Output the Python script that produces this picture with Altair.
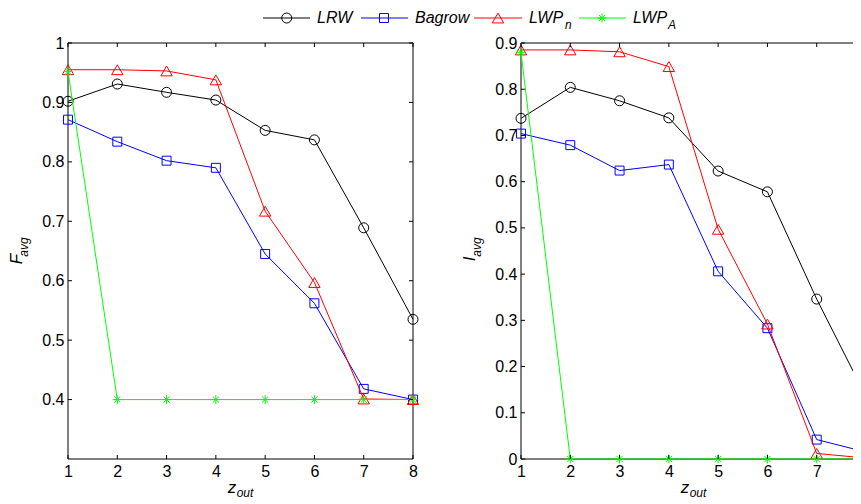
import altair as alt
import pandas as pd

# ---------------- data ----------------
z_out = [1, 2, 3, 4, 5, 6, 7, 8]
series = ["LRW", "Bagrow", "LWP_n", "LWP_A"]

f_lrw = [0.902, 0.931, 0.917, 0.904, 0.853, 0.837, 0.689, 0.535]
f_bagrow = [0.871, 0.834, 0.802, 0.790, 0.645, 0.562, 0.418, 0.400]
f_lwpn = [0.955, 0.955, 0.953, 0.938, 0.717, 0.597, 0.401, 0.400]
f_lwpa = [0.952, 0.400, 0.400, 0.400, 0.400, 0.400, 0.400, 0.400]

i_lrw = [0.737, 0.804, 0.775, 0.738, 0.623, 0.578, 0.346, 0.135]
i_bagrow = [0.704, 0.679, 0.624, 0.637, 0.406, 0.283, 0.042, 0.015]
i_lwpn = [0.885, 0.885, 0.881, 0.849, 0.497, 0.292, 0.012, 0.002]
i_lwpa = [0.879, 0.0, 0.0, 0.0, 0.0, 0.0, 0.0, 0.0]

f_ticks = [0.4, 0.5, 0.6, 0.7, 0.8, 0.9, 1.0]
i_ticks = [0.0, 0.1, 0.2, 0.3, 0.4, 0.5, 0.6, 0.7, 0.8, 0.9]

# ---------------- styles ----------------
ASTER = "M-1,0L1,0M0,-1L0,1M-0.7,-0.7L0.7,0.7M-0.7,0.7L0.7,-0.7"
colors = {"LRW": "#000000", "Bagrow": "#0000ff", "LWP_n": "#ff0000", "LWP_A": "#00ff00"}
shapes = {"LRW": "circle", "Bagrow": "square", "LWP_n": "triangle-up", "LWP_A": ASTER}
sizes = {"LRW": 100, "Bagrow": 80, "LWP_n": 130, "LWP_A": 80}
FONT = "Liberation Sans"
W_L, H = 345, 416
UNIT = W_L / 7.0        # pixels per z_out unit, same in both panels
W_R = 332               # visible part of the right panel (the figure runs off the page)
TL = 4                  # inward tick length


def one(t):
    return pd.DataFrame({"t": [t]})


def panel(vals, ydomain, yticks, ysym, width, legend=False, cut=False):
    xmax = 1 + width / UNIT
    xs = alt.Scale(domain=[1, xmax], nice=False, zero=False)
    ys = alt.Scale(domain=ydomain, nice=False, zero=False)
    xvals = [v for v in z_out if v <= xmax + 1e-9]
    common = dict(title=None, labelFlush=False, labelOverlap=False, ticks=False,
                  domain=False, grid=False, labelPadding=4, labelFont=FONT,
                  labelFontSize=16, labelColor="black")
    xaxis = alt.Axis(values=xvals, format="d", **common)
    yaxis = alt.Axis(values=yticks, format=".1~f", **common)

    def X(f):
        return alt.X(f"{f}:Q", scale=xs, axis=xaxis)

    def Y(f):
        return alt.Y(f"{f}:Q", scale=ys, axis=yaxis)

    layers = []
    # box frame
    fr = alt.Chart(one("frame"))
    layers.append(fr.mark_rule(color="black", strokeWidth=1).encode(
        x=alt.value(0), y=alt.value(0), y2=alt.value(H)))
    if not cut:
        layers.append(fr.mark_rule(color="black", strokeWidth=1).encode(
            x=alt.value(width), y=alt.value(0), y2=alt.value(H)))
    layers.append(fr.mark_rule(color="black", strokeWidth=1).encode(
        x=alt.value(0), x2=alt.value(width), y=alt.value(0)))
    layers.append(fr.mark_rule(color="black", strokeWidth=1).encode(
        x=alt.value(0), x2=alt.value(width), y=alt.value(H)))

    for s, v in zip(series, vals):
        df = pd.DataFrame({"z": z_out, "v": v})
        b = alt.Chart(df)
        layers.append(b.mark_line(color=colors[s], strokeWidth=1, clip=cut).encode(
            x=X("z"), y=Y("v")))
        pts = b.mark_point(color=colors[s], filled=False, strokeWidth=1,
                           shape=shapes[s], size=sizes[s], opacity=1)
        if cut:
            pts = pts.transform_filter(f"datum.z <= {xmax}")
        layers.append(pts.encode(x=X("z"), y=Y("v")))

    # inward ticks
    yt = alt.Chart(pd.DataFrame({"v": yticks}))
    xt = alt.Chart(pd.DataFrame({"z": xvals}))
    layers.append(yt.mark_rule(color="black", strokeWidth=1).encode(
        y=Y("v"), x=alt.value(0), x2=alt.value(TL)))
    if not cut:
        layers.append(yt.mark_rule(color="black", strokeWidth=1).encode(
            y=Y("v"), x=alt.value(width - TL), x2=alt.value(width)))
    layers.append(xt.mark_rule(color="black", strokeWidth=1).encode(
        x=X("z"), y=alt.value(H - TL), y2=alt.value(H)))
    layers.append(xt.mark_rule(color="black", strokeWidth=1).encode(
        x=X("z"), y=alt.value(0), y2=alt.value(TL)))

    def txt(t, x, y, size, angle=0, align="center", baseline="alphabetic"):
        return alt.Chart(one(t)).mark_text(
            font=FONT, fontSize=size, fontStyle="italic", color="black",
            angle=angle, align=align, baseline=baseline).encode(
            text="t:N", x=alt.value(x), y=alt.value(y))

    # axis titles with subscripts
    layers.append(txt(ysym, -46, 216, 17, angle=270))
    layers.append(txt("avg", -40, 204, 12, angle=270))
    layers.append(txt("z", 164, 450, 17))
    layers.append(txt("out", 177, 454, 12))

    if legend:
        items = [
            ("LRW", 195, 242, 218.7, 249, None, None),
            ("Bagrow", 293, 340, 316, 347, None, None),
            ("LWP_n", 406, 454, 430, 461, "n", 497),
            ("LWP_A", 511, 558, 534, 565, "A", 600),
        ]
        ly = -25
        for s, x1, x2, xm, xt_, sub, xs_ in items:
            d = alt.Chart(one(s))
            layers.append(d.mark_rule(color=colors[s], strokeWidth=1).encode(
                x=alt.value(x1), x2=alt.value(x2), y=alt.value(ly)))
            layers.append(d.mark_point(color=colors[s], filled=False, strokeWidth=1,
                                       shape=shapes[s], size=sizes[s], opacity=1).encode(
                x=alt.value(xm), y=alt.value(ly)))
            label = s.split("_")[0]
            layers.append(txt(label, xt_, ly, 16, align="left", baseline="middle"))
            if sub:
                layers.append(txt(sub, xs_, ly + 7, 12, align="left", baseline="middle"))

    return alt.layer(*layers).properties(width=width, height=H)


left = panel([f_lrw, f_bagrow, f_lwpn, f_lwpa], [0.3, 1.0], f_ticks, "F", W_L, legend=True)
right = panel([i_lrw, i_bagrow, i_lwpn, i_lwpa], [0.0, 0.9], i_ticks, "I", W_R, cut=True)

# fixed 845x488 canvas (fits the page body exactly)
chart = alt.hconcat(left, right, spacing=108, bounds="flush").properties(
    autosize=alt.AutoSizeParams(type="none"),
    padding={"left": 60, "top": 35, "right": 785, "bottom": 453},
    background="white",
).configure_view(stroke="transparent")

chart.save("out.html", embed_options={"renderer": "svg", "actions": False})
